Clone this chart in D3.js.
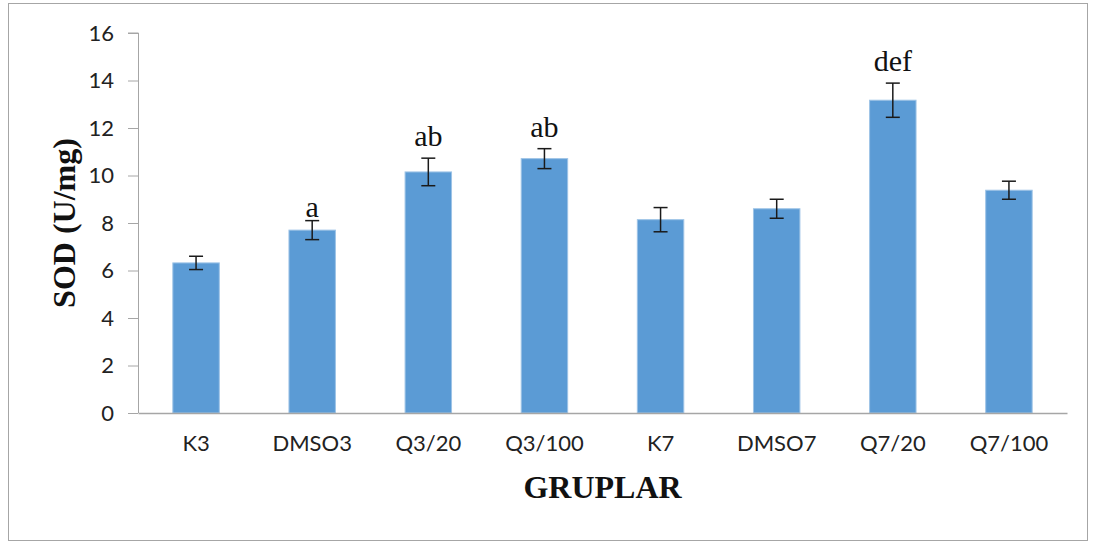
<!DOCTYPE html>
<html>
<head>
<meta charset="utf-8">
<script src="https://cdn.jsdelivr.net/npm/d3@7"></script>
<style>
  body { margin: 0; background: #fff; }
  svg { display: block; }
</style>
</head>
<body>
<div id="chart"></div>
<script>
// Data
const groups = ["K3", "DMSO3", "Q3/20", "Q3/100", "K7", "DMSO7", "Q7/20", "Q7/100"];
const means = [6.32, 7.7, 10.15, 10.71, 8.14, 8.6, 13.17, 9.38];
const errors = [0.28, 0.4, 0.58, 0.42, 0.51, 0.4, 0.72, 0.38];
const letters = ["", "a", "ab", "ab", "", "", "def", ""];
const yTicks = [0, 2, 4, 6, 8, 10, 12, 14, 16];

const W = 1096, H = 542;
const margin = { top: 33, right: 29, bottom: 129, left: 138 };
const width = W - margin.left - margin.right,
      height = H - margin.top - margin.bottom;

const svg = d3.select("#chart").append("svg")
    .attr("width", W)
    .attr("height", H);

// outer chart frame
svg.append("rect")
    .attr("x", 8.5).attr("y", 3.5)
    .attr("width", 1079).attr("height", 537)
    .attr("fill", "none")
    .attr("stroke", "#a6a6a6");

const g = svg.append("g")
    .attr("transform", "translate(" + margin.left + "," + margin.top + ")");

const x = d3.scaleBand().domain(groups).range([0, width]).paddingInner(0.6).paddingOuter(0.3);
const y = d3.scaleLinear().domain([0, 16]).range([height, 0]);

// y axis
const yAxis = g.append("g")
    .call(d3.axisLeft(y).tickValues(yTicks).tickSize(10).tickPadding(14));
yAxis.selectAll("line, path").attr("stroke", "#a6a6a6");
yAxis.select(".domain").attr("d", "M-10," + y(16) + "H0.5V" + height);
yAxis.selectAll("text")
    .attr("font-family", "Lato, 'Open Sans', sans-serif")
    .attr("font-size", 22)
    .attr("fill", "#222");

// bars
g.selectAll(".bar")
    .data(groups)
    .enter().append("rect")
    .attr("class", "bar")
    .attr("x", d => x(d))
    .attr("y", (d, i) => y(means[i]))
    .attr("width", x.bandwidth())
    .attr("height", (d, i) => height - y(means[i]))
    .attr("fill", "#5b9bd5")
    .attr("stroke", "#9dc3e6")
    .attr("stroke-width", 1);

// x axis (drawn after bars so the baseline sits on top)
const xAxis = g.append("g")
    .attr("transform", "translate(0," + height + ")")
    .call(d3.axisBottom(x).tickSize(0).tickPadding(22));
xAxis.select(".domain").attr("stroke", "#a6a6a6").attr("stroke-width", 1.5);
xAxis.selectAll("text")
    .attr("font-family", "Lato, 'Open Sans', sans-serif")
    .attr("font-size", 22)
    .attr("fill", "#222");

// error bars
const cap = 7;
const err = g.selectAll(".err")
    .data(groups)
    .enter().append("g")
    .attr("class", "err")
    .attr("stroke", "#1a1a1a")
    .attr("stroke-width", 1.5);
err.append("line")
    .attr("x1", d => x(d) + x.bandwidth() / 2)
    .attr("x2", d => x(d) + x.bandwidth() / 2)
    .attr("y1", (d, i) => y(means[i] + errors[i]))
    .attr("y2", (d, i) => y(means[i] - errors[i]));
err.append("line")
    .attr("x1", d => x(d) + x.bandwidth() / 2 - cap)
    .attr("x2", d => x(d) + x.bandwidth() / 2 + cap)
    .attr("y1", (d, i) => y(means[i] + errors[i]))
    .attr("y2", (d, i) => y(means[i] + errors[i]));
err.append("line")
    .attr("x1", d => x(d) + x.bandwidth() / 2 - cap)
    .attr("x2", d => x(d) + x.bandwidth() / 2 + cap)
    .attr("y1", (d, i) => y(means[i] - errors[i]))
    .attr("y2", (d, i) => y(means[i] - errors[i]));

// significance letters
g.selectAll(".sig")
    .data(groups)
    .enter().append("text")
    .attr("class", "sig")
    .attr("x", d => x(d) + x.bandwidth() / 2)
    .attr("y", (d, i) => y(means[i] + errors[i]) - (letters[i].length > 1 ? 12 : 4))
    .attr("text-anchor", "middle")
    .attr("font-family", "'Liberation Serif', 'Times New Roman', serif")
    .attr("font-size", 30)
    .attr("fill", "#111")
    .text((d, i) => letters[i]);

// axis titles
svg.append("text")
    .attr("x", margin.left + width / 2)
    .attr("y", 498)
    .attr("text-anchor", "middle")
    .attr("font-family", "'Liberation Serif', 'Times New Roman', serif")
    .attr("font-weight", "bold")
    .attr("font-size", 32)
    .attr("fill", "#111")
    .text("GRUPLAR");

svg.append("text")
    .attr("transform", "translate(75," + (margin.top + height / 2) + ") rotate(-90)")
    .attr("text-anchor", "middle")
    .attr("font-family", "'Liberation Serif', 'Times New Roman', serif")
    .attr("font-weight", "bold")
    .attr("font-size", 32)
    .attr("fill", "#111")
    .text("SOD (U/mg)");
</script>
</body>
</html>
